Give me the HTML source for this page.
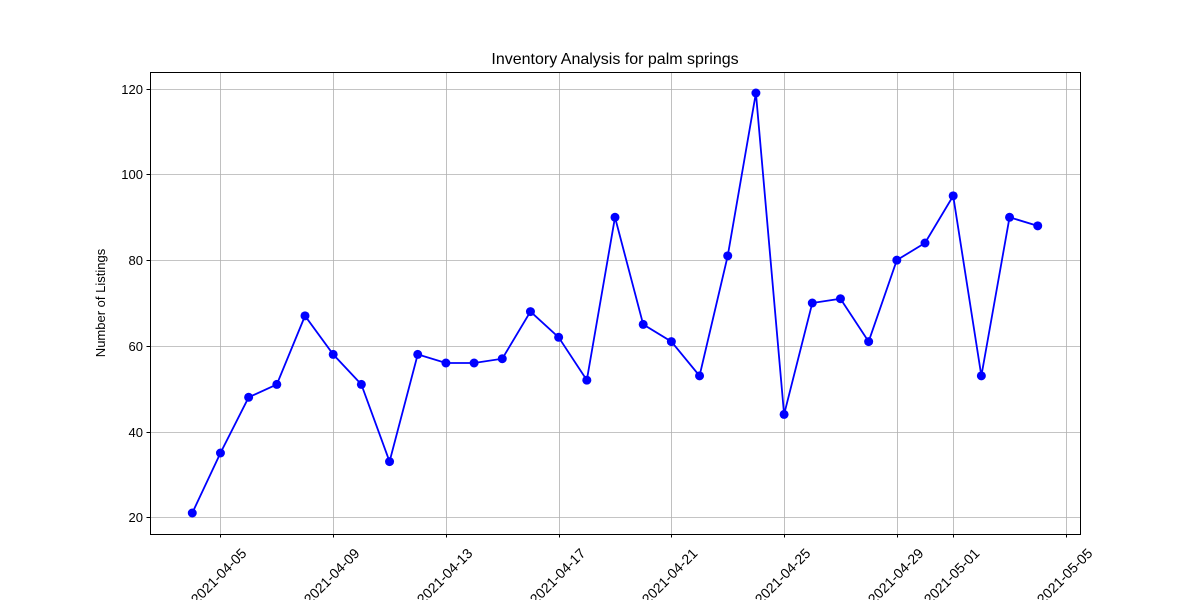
<!DOCTYPE html>
<html><head><meta charset="utf-8"><style>
body{margin:0;background:#fff;}
svg text{font-family:"Liberation Sans","DejaVu Sans",sans-serif;fill:#000;}
</style></head><body>
<svg id="chart" width="1200" height="600">
<text x="615" y="64" font-size="16" text-anchor="middle">Inventory Analysis for palm springs</text>
<text transform="translate(105,303) rotate(-90)" font-size="13" text-anchor="middle">Number of Listings</text>
<g id="grid"></g><g id="axes"></g><g id="series"></g>
<rect x="150.5" y="72.5" width="930" height="462" fill="none" stroke="#000" stroke-width="1"/>
</svg>
<script>
const values=[21,35,48,51,67,58,51,33,58,56,56,57,68,62,52,90,65,61,53,81,119,44,70,71,61,80,84,95,53,90,88];
const startDate="2021-04-04";
const xTickDays=[1,5,9,13,17,21,25,27,31];
const xTickLabels=["2021-04-05","2021-04-09","2021-04-13","2021-04-17","2021-04-21","2021-04-25","2021-04-29","2021-05-01","2021-05-05"];
const yTicks=[20,40,60,80,100,120];

const L=150,R=1080,T=72,B=534;
const xmin=-1.5,xmax=31.5,ymin=16.1,ymax=123.9;
const X=d=>L+(d-xmin)/(xmax-xmin)*(R-L);
const Y=v=>B-(v-ymin)/(ymax-ymin)*(B-T);
const NS="http://www.w3.org/2000/svg";
function mk(tag,attrs,parent){const e=document.createElementNS(NS,tag);for(const k in attrs)e.setAttribute(k,attrs[k]);parent.appendChild(e);return e;}
const grid=document.getElementById('grid'),axes=document.getElementById('axes'),series=document.getElementById('series');
yTicks.forEach(v=>{
 const y=Math.round(Y(v))+0.5;
 const g=mk('line',{x1:L,x2:R,y1:y,y2:y,stroke:'#b0b0b0','stroke-width':0.8},grid);
 
 
 const t=mk('line',{x1:L-3.5,x2:L,y1:y,y2:y,stroke:'#000'},axes);
 
 
 const l=mk('text',{x:L-7,y:y+4.5,'font-size':13,'text-anchor':'end'},axes);
 l.textContent=v;
 
 
});
xTickDays.forEach((d,i)=>{
 const x=Math.round(X(d))+0.5;
 const g=mk('line',{x1:x,x2:x,y1:T,y2:B,stroke:'#b0b0b0','stroke-width':0.8},grid);
 
 
 const t=mk('line',{x1:x,x2:x,y1:B,y2:B+3.5,stroke:'#000'},axes);
 
 
 const l=mk('text',{transform:`translate(${x-2},${576}) rotate(-45)`,'font-size':14,'text-anchor':'middle',y:5},axes);
 l.textContent=xTickLabels[i];
 
 
});
const pts=values.map((v,i)=>X(i)+','+Y(v)).join(' ');
const line=mk('polyline',{points:pts,fill:'none',stroke:'#0000ff','stroke-width':1.8},series);


values.forEach((v,i)=>{
 const c=mk('circle',{cx:X(i),cy:Y(v),r:4.5,fill:'#0000ff'},series);
 
 
});
</script>
</body></html>
